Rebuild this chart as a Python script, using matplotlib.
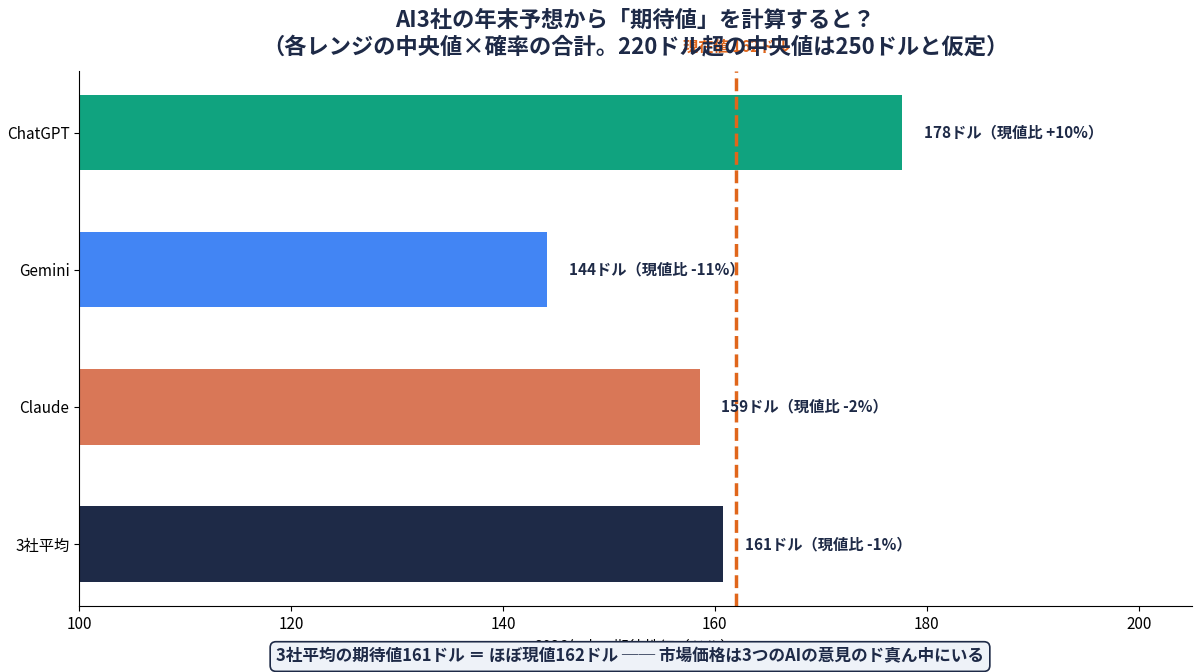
import matplotlib
matplotlib.use("Agg")
import matplotlib.pyplot as plt

plt.rcParams['font.family'] = ['Noto Sans CJK JP', 'DejaVu Sans']

# data
models = ["ChatGPT", "Gemini", "Claude", "3社平均"]
expected = [177.7, 144.2, 158.6, 160.8]
labels = ["178ドル（現値比 +10%）", "144ドル（現値比 -11%）",
          "159ドル（現値比 -2%）", "161ドル（現値比 -1%）"]
colors = ["#10a37f", "#4285f4", "#d97757", "#1e2a47"]
current_price = 162

navy = "#1e2a47"
orange = "#e0661b"

fig, ax = plt.subplots(figsize=(12, 6.72), dpi=100)
fig.subplots_adjust(left=0.066, right=0.993, top=0.895, bottom=0.098)

ypos = list(range(len(models)))
ax.barh(ypos, expected, height=0.55, color=colors)
ax.set_yticks(ypos)
ax.set_yticklabels(models, fontsize=11)
ax.invert_yaxis()

for y, v, lab in zip(ypos, expected, labels):
    ax.text(v + 2, y, lab, va="center", ha="left", fontsize=11,
            fontweight="bold", color=navy)

ax.axvline(current_price, color=orange, linestyle="--", linewidth=2.5)
ax.text(current_price, 1.03, "現在値 162ドル", transform=ax.get_xaxis_transform(),
        ha="center", va="bottom", fontsize=11, fontweight="bold", color=orange)

ax.set_xlim(100, 205)
ax.set_xticks([100, 120, 140, 160, 180, 200])
ax.tick_params(axis="x", labelsize=11)
ax.set_xlabel("2026年末の期待株価（ドル）", fontsize=11)

for s in ["top", "right"]:
    ax.spines[s].set_visible(False)

ax.set_title("AI3社の年末予想から「期待値」を計算すると？\n"
             "（各レンジの中央値×確率の合計。220ドル超の中央値は250ドルと仮定）",
             fontsize=16, fontweight="bold", color=navy, pad=12)

fig.text(0.525, 0.023, "3社平均の期待値161ドル ＝ ほぼ現値162ドル ── 市場価格は3つのAIの意見のド真ん中にいる",
         ha="center", va="center", fontsize=12, fontweight="bold", color=navy,
         bbox=dict(boxstyle="round,pad=0.35", facecolor="#eef2f8", edgecolor=navy, linewidth=1.2))

fig.savefig("out.png", dpi=100)
